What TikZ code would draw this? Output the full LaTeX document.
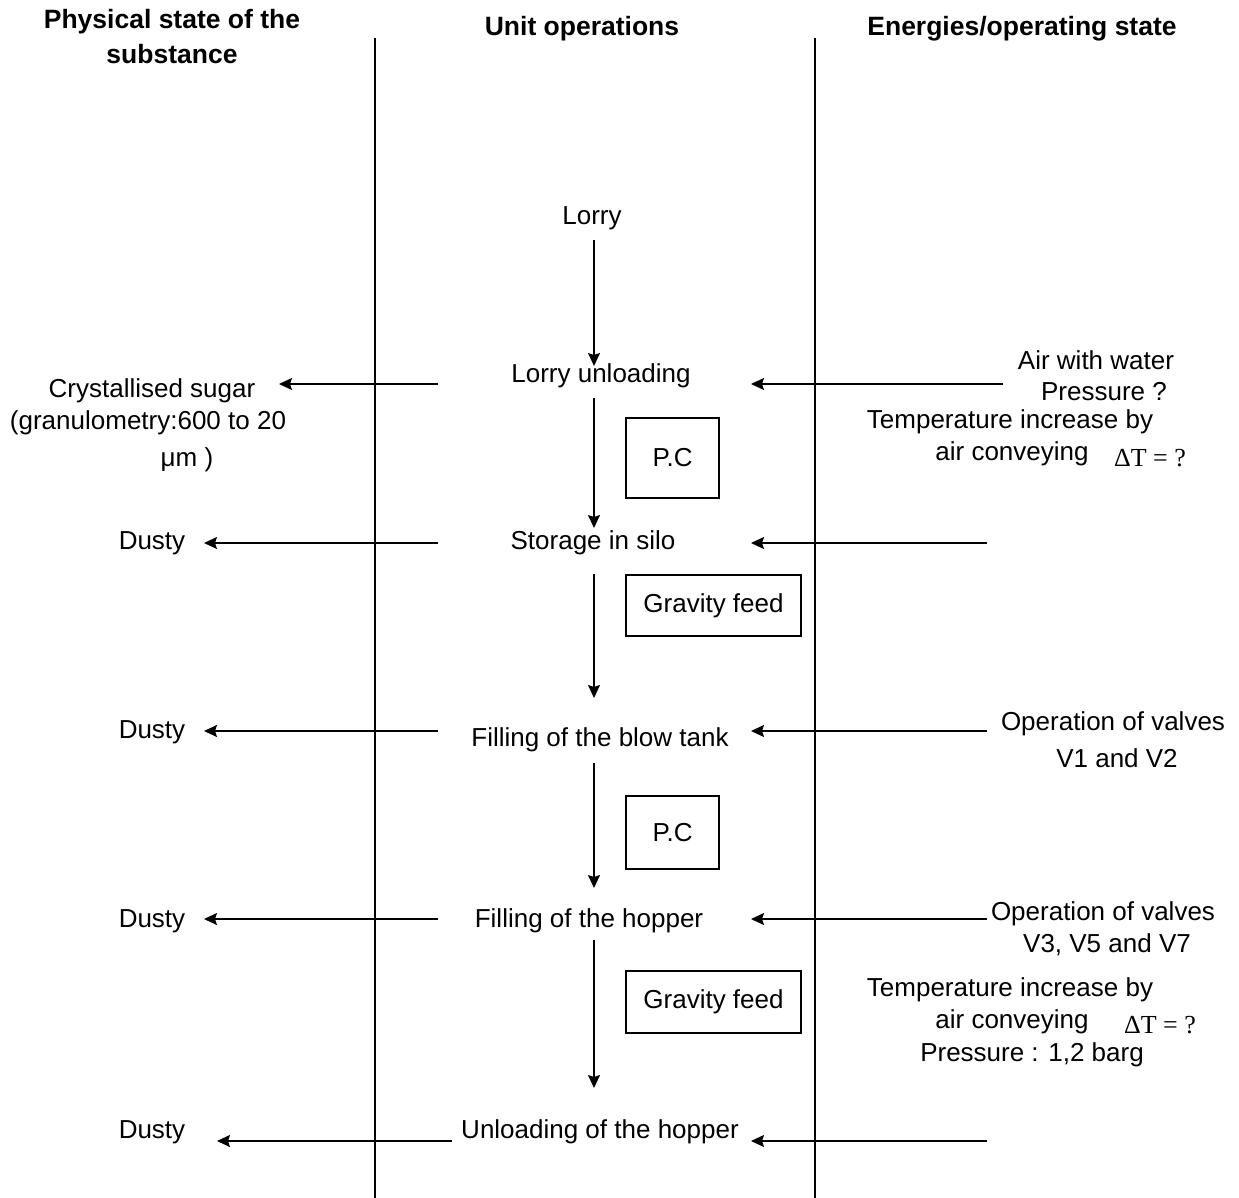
\documentclass[tikz,border=0pt]{standalone}
\usepackage{fontspec}
\setmainfont{Liberation Sans}
\newfontfamily\serifpart{Liberation Serif}
\usetikzlibrary{arrows.meta}
\begin{document}
\begin{tikzpicture}[x=1pt,y=-1pt,
  txt/.style={inner sep=0pt,font=\fontsize{26}{30}\selectfont},
  head/.style={inner sep=0pt,font=\fontsize{26.5}{30}\selectfont\bfseries},
  lane/.style={line width=1.6pt},
  flow/.style={line width=1.6pt,-{Stealth[length=13pt,width=12pt,inset=2pt]}},
  tag/.style={draw,line width=1.4pt,inner sep=0pt,font=\fontsize{26}{30}\selectfont}]
\useasboundingbox (0,0) rectangle (1239,1198);
% headers
\node[head] (h1a) at (172,22) {Physical state of the};
\node[head] (h1b) at (172,54) {substance};
\node[head] (h2) at (582,29) {Unit operations};
\node[head] (h3) at (1022,29) {Energies/operating state};
% lane lines
\coordinate (l1t) at (375,38); \coordinate (l1b) at (375,1198);
\coordinate (l2t) at (815,38); \coordinate (l2b) at (815,1198);
\draw[lane] (l1t) -- (l1b);
\draw[lane] (l2t) -- (l2b);
% unit operations
\node[txt] (lorry) at (592,218) {Lorry};
\node[txt] (unload) at (601,376) {Lorry unloading};
\node[txt] (silo) at (593,543) {Storage in silo};
\node[txt] (blow) at (600,740) {Filling of the blow tank};
\node[txt] (hopper) at (589,921) {Filling of the hopper};
\node[txt] (unhop) at (600,1132) {Unloading of the hopper};
% boxes
\node[tag,minimum width=93pt,minimum height=80pt] (pc1) at (672.5,458) {P.C};
\node[tag,minimum width=175pt,minimum height=61pt] (gf1) at (713.5,605.5) {Gravity feed};
\node[tag,minimum width=93pt,minimum height=73pt] (pc2) at (672.5,832.5) {P.C};
\node[tag,minimum width=175pt,minimum height=62pt] (gf2) at (713.5,1002) {Gravity feed};
% vertical flow
\coordinate (v1a) at (594,240); \coordinate (v1b) at (594,366);
\coordinate (v2a) at (594,398); \coordinate (v2b) at (594,528);
\coordinate (v3a) at (594,574); \coordinate (v3b) at (594,698);
\coordinate (v4a) at (594,763); \coordinate (v4b) at (594,888);
\coordinate (v5a) at (594,940); \coordinate (v5b) at (594,1088);
\draw[flow] (v1a) -- (v1b);
\draw[flow] (v2a) -- (v2b);
\draw[flow] (v3a) -- (v3b);
\draw[flow] (v4a) -- (v4b);
\draw[flow] (v5a) -- (v5b);
% left column
\node[txt] (cs1) at (152,391) {Crystallised sugar};
\node[txt] (cs2) at (148,423) {(granulometry:600 to 20};
\node[txt] (cs3) at (187,460) {μm )};
\node[txt] (d1) at (152,543) {Dusty};
\node[txt] (d2) at (152,732) {Dusty};
\node[txt] (d3) at (152,921) {Dusty};
\node[txt] (d4) at (152,1132) {Dusty};
\coordinate (a1s) at (438,384); \coordinate (a1e) at (279,384);
\coordinate (a2s) at (438,543); \coordinate (a2e) at (204,543);
\coordinate (a3s) at (438,731); \coordinate (a3e) at (204,731);
\coordinate (a4s) at (438,919); \coordinate (a4e) at (204,919);
\coordinate (a5s) at (452,1141); \coordinate (a5e) at (217,1141);
\draw[flow] (a1s) -- (a1e);
\draw[flow] (a2s) -- (a2e);
\draw[flow] (a3s) -- (a3e);
\draw[flow] (a4s) -- (a4e);
\draw[flow] (a5s) -- (a5e);
% right column
\coordinate (b1s) at (1003,384); \coordinate (b1e) at (751,384);
\coordinate (b2s) at (987,543); \coordinate (b2e) at (751,543);
\coordinate (b3s) at (987,731); \coordinate (b3e) at (751,731);
\coordinate (b4s) at (987,919); \coordinate (b4e) at (751,919);
\coordinate (b5s) at (987,1141); \coordinate (b5e) at (751,1141);
\draw[flow] (b1s) -- (b1e);
\draw[flow] (b2s) -- (b2e);
\draw[flow] (b3s) -- (b3e);
\draw[flow] (b4s) -- (b4e);
\draw[flow] (b5s) -- (b5e);
\node[txt] (e1) at (1096,360) {Air with water};
\node[txt] (e2) at (1104,392) {Pressure ?};
\node[txt] (e3) at (1010,422) {Temperature increase by};
\node[txt] (e4) at (1012,454) {air conveying};
\node[txt,font=\fontsize{26}{30}\serifpart] (e5) at (1150,458) {ΔT = ?};
\node[txt] (e6) at (1113,724) {Operation of valves};
\node[txt] (e7) at (1117,758) {V1 and V2};
\node[txt] (e8) at (1103,914) {Operation of valves};
\node[txt] (e9) at (1107,945) {V3, V5 and V7};
\node[txt] (e10) at (1010,990) {Temperature increase by};
\node[txt] (e11) at (1012,1022) {air conveying};
\node[txt,font=\fontsize{26}{30}\serifpart] (e12) at (1160,1025) {ΔT = ?};
\node[txt] (e13) at (1032,1055) {Pressure : 1,2 barg};
\end{tikzpicture}
\end{document}
